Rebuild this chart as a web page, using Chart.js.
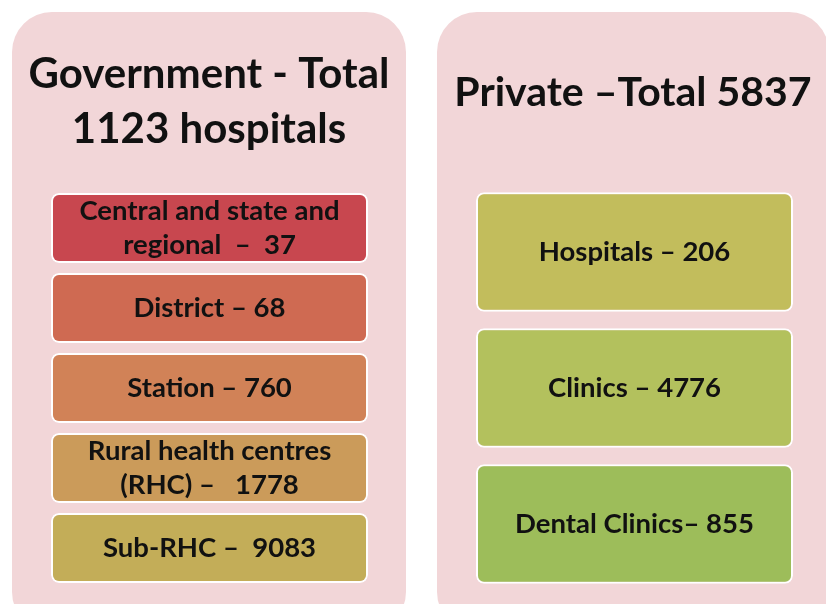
<!DOCTYPE html>
<html>
<head>
<meta charset="utf-8">
<script src="https://cdn.jsdelivr.net/npm/chart.js@4.4.1/dist/chart.umd.min.js"></script>
<style>
  html, body { margin: 0; padding: 0; background: #ffffff; overflow: hidden; width: 826px; height: 604px; }
  .panel { position: absolute; }
  #govWrap { left: 12px; top: 12px; width: 394px; height: 600px; }
  #privWrap { left: 437px; top: 12px; width: 392px; height: 600px; }
</style>
</head>
<body>
<div class="panel" id="govWrap"><canvas id="gov" width="394" height="600"></canvas></div>
<div class="panel" id="privWrap"><canvas id="priv" width="392" height="600"></canvas></div>
<script>
// ---- Data ----
const govTotal = 1123;
const govCategories = [
  ['Central and state and', 'regional'],
  ['District'],
  ['Station'],
  ['Rural health centres', '(RHC)'],
  ['Sub-RHC']
];
const govValues = [37, 68, 760, 1778, 9083];
const govSeparators = ['  \u2013  ', ' \u2013 ', ' \u2013 ', ' \u2013   ', ' \u2013  '];

const privTotal = 5837;
const privCategories = [['Hospitals'], ['Clinics'], ['Dental Clinics']];
const privValues = [206, 4776, 855];
const privSeparators = [' \u2013 ', ' \u2013 ', '\u2013 '];

// ---- Styles ----
const govColors = ['#c8474f', '#cf6a52', '#d18257', '#cb9b5a', '#c3ad58'];
const privColors = ['#c2bd5c', '#b3c15d', '#9dbd5a'];
const panelColor = '#f2d6d8';
const FONT = 'Lato';

const panelBg = {
  id: 'panelBg',
  beforeDraw(chart) {
    const ctx = chart.ctx;
    const w = chart.width, h = chart.height + 20;
    ctx.save();
    ctx.fillStyle = panelColor;
    ctx.beginPath();
    ctx.roundRect(0, 0, w, h, 40);
    ctx.fill();
    ctx.restore();
  }
};

const boxLabels = {
  id: 'boxLabels',
  afterDatasetsDraw(chart, args, opts) {
    const ctx = chart.ctx;
    const meta = chart.getDatasetMeta(0);
    ctx.save();
    ctx.fillStyle = '#111111';
    ctx.font = 'bold ' + opts.size + 'px ' + FONT;
    ctx.textAlign = 'center';
    ctx.textBaseline = 'middle';
    meta.data.forEach((bar, i) => {
      const lines = opts.categories[i].slice();
      lines[lines.length - 1] = lines[lines.length - 1] + opts.separators[i] + opts.values[i];
      const n = lines.length;
      const cx = (bar.x + bar.base) / 2;
      lines.forEach((ln, j) => {
        const y = bar.y + (j - (n - 1) / 2) * opts.lineHeight;
        ctx.fillText(ln, cx, y);
      });
    });
    ctx.restore();
  }
};

// x-scale range chosen so that the [0,1] box spans the inner area of each panel
function makeChart(id, categories, values, separators, colors, titleLines, xMin, xMax, padBottom, titlePad, barPct, titleSize) {
  return new Chart(document.getElementById(id), {
    type: 'bar',
    data: {
      labels: categories.map(c => c.join(' ')),
      datasets: [{
        data: values.map(() => [0, 1]),
        backgroundColor: colors,
        borderColor: '#ffffff',
        borderWidth: 2,
        borderRadius: 8,
        borderSkipped: false,
        barPercentage: barPct,
        categoryPercentage: 1
      }]
    },
    options: {
      indexAxis: 'y',
      responsive: false,
      animation: false,
      layout: { padding: { left: 0, right: 0, top: 0, bottom: padBottom } },
      scales: {
        x: { display: false, min: xMin, max: xMax },
        y: { display: false }
      },
      plugins: {
        legend: { display: false },
        tooltip: { enabled: false },
        title: {
          display: true,
          text: titleLines,
          color: '#111111',
          font: { family: FONT, size: titleSize, weight: 'bold', lineHeight: 55 / titleSize },
          padding: titlePad
        },
        boxLabels: { categories, values, separators, size: 27.5, lineHeight: 34 }
      }
    },
    plugins: [panelBg, boxLabels]
  });
}

makeChart('gov', govCategories, govValues, govSeparators, govColors,
  ['Government - Total', govTotal + ' hospitals'],
  -39 / 317, 1 + 38 / 317, 24,
  { top: 34.5, bottom: 31.5 }, 0.875, 42);

makeChart('priv', privCategories, privValues, privSeparators, privColors,
  ['Private \u2013Total ' + privTotal],
  -39 / 317, 1 + 36 / 317, 20,
  { top: 53.5, bottom: 63.5 }, 0.88, 41);
</script>
</body>
</html>
